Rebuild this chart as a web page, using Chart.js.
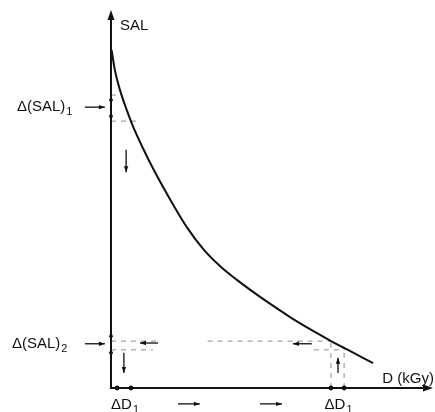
<!DOCTYPE html>
<html><head><meta charset="utf-8">
<script src="https://cdn.jsdelivr.net/npm/chart.js@4/dist/chart.umd.min.js"></script>
<style>html,body{margin:0;padding:0;background:#fff}#wrap{width:435px;height:412px}</style>
</head><body><div id="wrap"><canvas id="c" width="435" height="412"></canvas></div>
<script>
// Curve: SAL versus dose D (kGy), arbitrary linear units
const curveD   = [0.02, 0.12, 0.28, 0.49, 0.69, 1.00, 1.31, 1.93, 2.36, 2.86, 3.39, 3.91, 4.63, 5.34, 5.81, 6.86, 7.33, 8.14];
const curveSAL = [8.94, 8.41, 7.88, 7.35, 6.91, 6.33, 5.80, 4.85, 4.25, 3.68, 3.22, 2.86, 2.41, 2.00, 1.74, 1.23, 1.02, 0.66];
// Guide levels
const salLevels = [7.75, 7.06, 1.24, 1.01];      // Δ(SAL)1 upper/lower, Δ(SAL)2 upper/lower
const doseMarks = [0.19, 0.62, 6.83, 7.24];      // ΔD1 at low dose, ΔD1 at high dose
const axisMax = {d: 10, sal: 10};
const labels = {y: "SAL", x: "D (kGy)", dSal: "Δ(SAL)", dD: "ΔD"};
// Arrows: [d0, s0, d1, s1] in data units (from -> to)
const arrows = [
  [0.47, 6.30, 0.47, 5.71],
  [0.40, 0.93, 0.40, 0.40],
  [7.05, 0.40, 7.05, 0.80],
  [1.46, 1.19, 0.90, 1.19],
  [6.24, 1.17, 5.65, 1.17],
  [2.08, -0.42, 2.76, -0.42],
  [4.63, -0.42, 5.31, -0.42],
  [-0.81, 7.43, -0.19, 7.43],
  [-0.81, 1.17, -0.19, 1.17],
  [0.0, 7.35, 0.0, 7.75],
  [0.0, 7.50, 0.0, 7.06],
  [0.0, 1.10, 0.0, 1.50],
  [0.0, 1.15, 0.0, 0.80]
];

const pts = curveD.map((d,i)=>({x:d,y:curveSAL[i]}));
const guide = (a,b)=>({data:[a,b],borderColor:'#a0a0a0',borderWidth:1.2,borderDash:[5,5],pointRadius:0,showLine:true,fill:false});

const overlay = {
  id:'overlay',
  afterDatasetsDraw(chart){
    const ctx = chart.ctx, xs = chart.scales.x, ys = chart.scales.y;
    const X = v=>xs.getPixelForValue(v), Y = v=>ys.getPixelForValue(v);
    ctx.save();
    ctx.strokeStyle='#111'; ctx.fillStyle='#111';
    // axes
    ctx.lineWidth=2;
    ctx.beginPath(); ctx.moveTo(X(0),Y(0)+1); ctx.lineTo(X(0),Y(axisMax.sal)+6); ctx.stroke();
    ctx.beginPath(); ctx.moveTo(X(0)-1,Y(0)); ctx.lineTo(X(axisMax.d)-6,Y(0)); ctx.stroke();
    const head=(x,y,ang,len,w)=>{ctx.beginPath();ctx.moveTo(x,y);
      ctx.lineTo(x-len*Math.cos(ang)+w*Math.sin(ang), y-len*Math.sin(ang)-w*Math.cos(ang));
      ctx.lineTo(x-len*Math.cos(ang)-w*Math.sin(ang), y-len*Math.sin(ang)+w*Math.cos(ang));
      ctx.closePath();ctx.fill();};
    head(X(0),Y(axisMax.sal),-Math.PI/2,10,3.5);
    head(X(axisMax.d),Y(0),0,10,3.5);
    // small arrows
    ctx.lineWidth=1.3;
    arrows.forEach(a=>{
      const x0=X(a[0]),y0=Y(a[1]),x1=X(a[2]),y1=Y(a[3]);
      ctx.beginPath();ctx.moveTo(x0,y0);ctx.lineTo(x1,y1);ctx.stroke();
      head(x1,y1,Math.atan2(y1-y0,x1-x0),6,2.2);
    });
    // dose dots
    doseMarks.forEach(d=>{ctx.beginPath();ctx.arc(X(d),Y(0),2.4,0,Math.PI*2);ctx.fill();});
    // labels
    const F='15px "Liberation Sans", Arial, sans-serif', FS='11px "Liberation Sans", Arial, sans-serif';
    const sub=(main,s,x,y)=>{ctx.font=F;ctx.textAlign='left';ctx.textBaseline='alphabetic';
      ctx.fillText(main,x,y);const w=ctx.measureText(main).width;ctx.font=FS;ctx.fillText(s,x+w+1,y+4);};
    ctx.font=F; ctx.textBaseline='alphabetic'; ctx.textAlign='left';
    ctx.fillText(labels.y, X(0)+9, Y(axisMax.sal)+20);
    ctx.textAlign='right'; ctx.fillText(labels.x, X(axisMax.d)+1, Y(0)-5);
    sub(labels.dSal,'1',17,Y(7.43)+4);
    sub(labels.dSal,'2',12,Y(1.17)+4);
    sub(labels.dD,'1',X((doseMarks[0]+doseMarks[1])/2)-13,Y(0)+21);
    sub(labels.dD,'1',X((doseMarks[2]+doseMarks[3])/2)-13,Y(0)+21);
    ctx.restore();
  }
};

new Chart(document.getElementById('c'),{
  type:'scatter',
  data:{datasets:[
    {data:pts,borderColor:'#111',borderWidth:2,pointRadius:0,showLine:true,cubicInterpolationMode:'monotone',fill:false},
    guide({x:0,y:salLevels[1]},{x:0.9,y:salLevels[1]}),
    guide({x:0,y:salLevels[0]},{x:0.2,y:salLevels[0]}),
    guide({x:0,y:salLevels[2]},{x:1.5,y:salLevels[2]}),
    guide({x:3.0,y:salLevels[2]},{x:doseMarks[2],y:salLevels[2]}),
    guide({x:6.3,y:salLevels[3]},{x:doseMarks[3],y:salLevels[3]}),
    guide({x:0,y:salLevels[3]},{x:1.3,y:salLevels[3]}),
    guide({x:doseMarks[2],y:0},{x:doseMarks[2],y:salLevels[2]}),
    guide({x:doseMarks[3],y:0},{x:doseMarks[3],y:salLevels[3]})
  ]},
  options:{
    responsive:false, animation:false, devicePixelRatio:1,
    layout:{padding:{left:111,right:2,top:10,bottom:24}},
    plugins:{legend:{display:false},tooltip:{enabled:false}},
    scales:{
      x:{type:'linear',min:0,max:axisMax.d,display:false},
      y:{type:'linear',min:0,max:axisMax.sal,display:false}
    }
  },
  plugins:[overlay]
});
</script></body></html>
